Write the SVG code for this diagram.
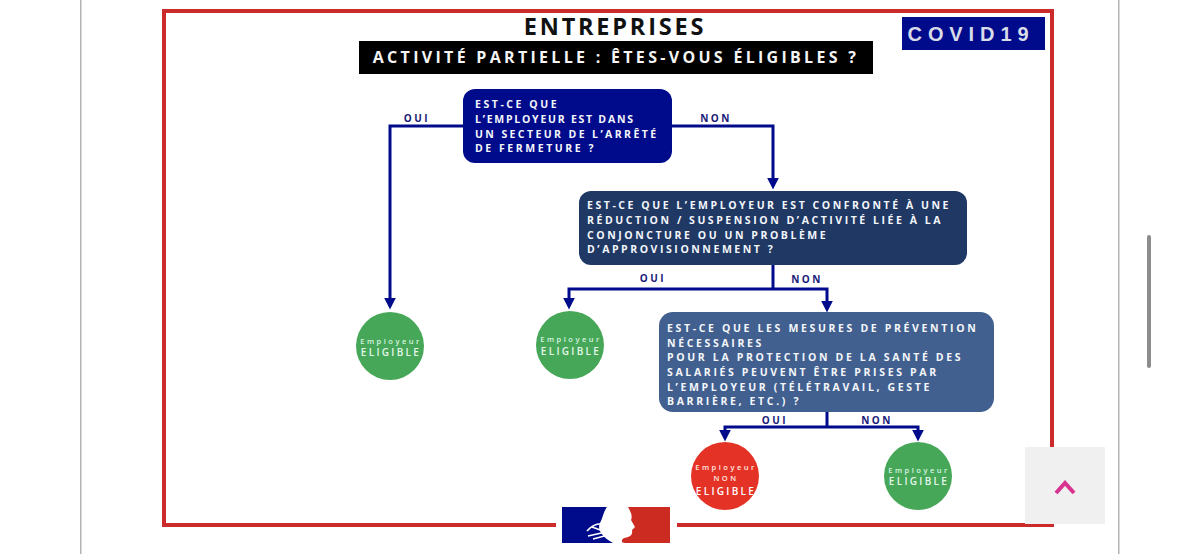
<svg xmlns="http://www.w3.org/2000/svg" width="1200" height="554" viewBox="0 0 1200 554">
<defs>
<marker id="arrow" viewBox="0 0 10 10" refX="7" refY="5" markerWidth="4" markerHeight="4" orient="auto" markerUnits="strokeWidth"><path d="M0,0 L10,5 L0,10 Z" fill="#000b8c"/></marker>
</defs>
<style>
text{font-family:"Open Sans","Liberation Sans",sans-serif}
.q{fill:#f4f6fa;font-size:10.5px;font-weight:700;letter-spacing:2.55px}
.lab{fill:#1a1a78;font-size:10px;font-weight:700;letter-spacing:2.5px;text-anchor:middle}
.e1{fill:#d8f5e0;font-size:7.5px;font-weight:600;letter-spacing:2.5px;text-anchor:middle}
.e2{fill:#e4f8ea;font-size:10px;font-weight:600;letter-spacing:2.3px;text-anchor:middle}
.c{fill:none;stroke:#000b8c;stroke-width:3}
.green{fill:#46a758}
</style>
<rect width="1200" height="554" fill="#fff"/>
<g id="page">
<rect x="80" y="0" width="1.5" height="554" fill="#b3b3b3"/>
<rect x="1118" y="0" width="1.5" height="554" fill="#b3b3b3"/>
<rect x="1147" y="235" width="4" height="133" rx="2" fill="#8c8c8c"/>
</g>
<rect id="frame" x="164" y="11" width="888" height="514" fill="none" stroke="#cc2b2b" stroke-width="4"/>
<g id="title">
<text x="615" y="35" text-anchor="middle" font-size="23.5" font-weight="700" letter-spacing="2.8" fill="#111">ENTREPRISES</text>
<rect x="359" y="41" width="514" height="33" fill="#000"/>
<text x="616" y="63" text-anchor="middle" font-size="16" font-weight="700" letter-spacing="3.3" fill="#f4f4f4">ACTIVITÉ PARTIELLE : ÊTES-VOUS ÉLIGIBLES ?</text>
</g>
<g id="covid">
<rect x="902" y="17" width="143" height="33" fill="#000b8c"/>
<text x="971" y="41" text-anchor="middle" font-size="20" font-weight="700" letter-spacing="5.9" fill="#d8dbe8" style="font-family:'Liberation Sans',sans-serif">COVID19</text>
</g>
<g id="connectors">
<path class="c" marker-end="url(#arrow)" d="M463,126 H390 V306"/>
<path class="c" marker-end="url(#arrow)" d="M672,126 H773 V186"/>
<path class="c" d="M773,265 V289"/>
<path class="c" marker-end="url(#arrow)" d="M773,289 H569 V306"/>
<path class="c" marker-end="url(#arrow)" d="M773,289 H827 V309"/>
<path class="c" d="M827,411 V427"/>
<path class="c" marker-end="url(#arrow)" d="M827,427 H725 V438"/>
<path class="c" marker-end="url(#arrow)" d="M827,427 H918 V438"/>
<text class="lab" x="417" y="122">OUI</text>
<text class="lab" x="716" y="122">NON</text>
<text class="lab" x="653" y="282">OUI</text>
<text class="lab" x="807" y="283">NON</text>
<text class="lab" x="775" y="424">OUI</text>
<text class="lab" x="877" y="424">NON</text>
</g>
<g id="q1">
<rect x="463" y="89" width="209" height="74" rx="12" fill="#000b8c"/>
<text class="q" x="475" y="108">EST-CE QUE</text>
<text class="q" x="475" y="123" style="letter-spacing:1.75px">L’EMPLOYEUR EST DANS</text>
<text class="q" x="475" y="138" style="letter-spacing:2.4px">UN SECTEUR DE L’ARRÊTÉ</text>
<text class="q" x="475" y="152">DE FERMETURE ?</text>
</g>
<g id="q2">
<rect x="579" y="191" width="388" height="74" rx="12" fill="#1f3864"/>
<text class="q" x="587" y="209">EST-CE QUE L’EMPLOYEUR EST CONFRONTÉ À UNE</text>
<text class="q" x="587" y="224">RÉDUCTION / SUSPENSION D’ACTIVITÉ LIÉE À LA</text>
<text class="q" x="587" y="239">CONJONCTURE OU UN PROBLÈME</text>
<text class="q" x="587" y="253">D’APPROVISIONNEMENT ?</text>
</g>
<g id="q3">
<rect x="659" y="312" width="335" height="100" rx="14" fill="#41608f"/>
<text class="q" x="667" y="332" style="letter-spacing:2.65px">EST-CE QUE LES MESURES DE PRÉVENTION</text>
<text class="q" x="667" y="347" style="letter-spacing:2.65px">NÉCESSAIRES</text>
<text class="q" x="667" y="361" style="letter-spacing:2.65px">POUR LA PROTECTION DE LA SANTÉ DES</text>
<text class="q" x="667" y="376" style="letter-spacing:2.65px">SALARIÉS PEUVENT ÊTRE PRISES PAR</text>
<text class="q" x="667" y="391" style="letter-spacing:2.65px">L’EMPLOYEUR (TÉLÉTRAVAIL, GESTE</text>
<text class="q" x="667" y="405" style="letter-spacing:2.65px">BARRIÈRE, ETC.) ?</text>
</g>
<g id="e1">
<circle class="green" cx="390" cy="346" r="34"/>
<text class="e1" x="391" y="344">Employeur</text>
<text class="e2" x="391" y="356">ELIGIBLE</text>
</g>
<g id="e2">
<circle class="green" cx="570" cy="345" r="34"/>
<text class="e1" x="571" y="342">Employeur</text>
<text class="e2" x="571" y="355">ELIGIBLE</text>
</g>
<g id="e3">
<circle cx="725" cy="476" r="34" fill="#e43326"/>
<text class="e1" x="726" y="470" style="fill:#ffe8e0">Employeur</text>
<text class="e1" x="726" y="481" style="fill:#ffe8e0">NON</text>
<text class="e2" x="726" y="495" style="fill:#fff">ELIGIBLE</text>
</g>
<g id="e4">
<circle class="green" cx="918" cy="476" r="34"/>
<text class="e1" x="919" y="473">Employeur</text>
<text class="e2" x="919" y="485">ELIGIBLE</text>
</g>
<g id="logo">
<rect x="556" y="518" width="121" height="14" fill="#fff"/>
<path d="M562,507 H607 C603,512 603,518 600,523 C597,529 601,536 613,543 H562 Z" fill="#000b8c"/>
<path d="M628,507 H670 V543 H625 C621,543 621,540 624,538 C629,537 633,536 632,530 L635,527 L631,520 C633,515 630,511 628,507 Z" fill="#cc2b22"/>
<path d="M587,531 C592,525 598,523 604,524 M592,527 L603,531 M588,536 L606,532 M593,539 L608,535" stroke="#fff" stroke-width="1.6" fill="none"/>
</g>
<g id="top-button">
<rect x="1025" y="447" width="80" height="77" fill="#f0f0f0"/>
<path d="M1056,493 L1065,483 L1074,493" fill="none" stroke="#d8338f" stroke-width="4"/>
</g>
</svg>
